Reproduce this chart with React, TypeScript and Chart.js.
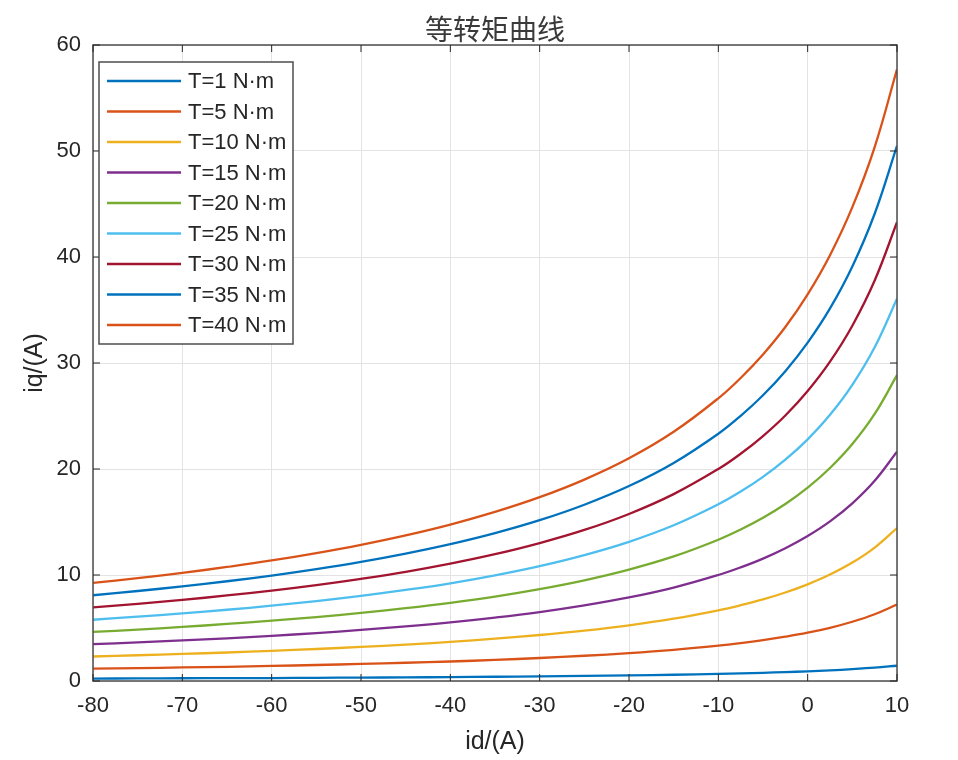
import { useEffect, useRef } from 'react';
import { Chart, registerables } from 'chart.js';

Chart.register(...registerables);

// id in A, every 5 A, denser near the steep right end
const idValues = [-80, -75, -70, -65, -60, -55, -50, -45, -40, -35, -30, -25, -20, -15, -10, -7.5, -5, -2.5, 0, 2.5, 5, 7.5, 10];

const t1 = [0.23, 0.24, 0.26, 0.27, 0.28, 0.3, 0.32, 0.34, 0.37, 0.4, 0.43, 0.48, 0.53, 0.59, 0.67, 0.71, 0.77, 0.84, 0.91, 1.0, 1.12, 1.26, 1.44];
const t5 = [1.16, 1.21, 1.28, 1.34, 1.42, 1.51, 1.61, 1.72, 1.84, 1.99, 2.17, 2.38, 2.63, 2.94, 3.33, 3.57, 3.85, 4.18, 4.56, 5.02, 5.59, 6.3, 7.21];
const t10 = [2.31, 2.43, 2.55, 2.69, 2.84, 3.02, 3.21, 3.43, 3.69, 3.99, 4.34, 4.75, 5.25, 5.88, 6.67, 7.15, 7.7, 8.35, 9.12, 10.04, 11.17, 12.59, 14.43];
const t15 = [3.47, 3.64, 3.83, 4.03, 4.26, 4.52, 4.82, 5.15, 5.53, 5.98, 6.5, 7.13, 7.88, 8.81, 10.0, 10.72, 11.55, 12.53, 13.68, 15.06, 16.76, 18.89, 21.64];
const t20 = [4.63, 4.85, 5.1, 5.38, 5.69, 6.03, 6.42, 6.87, 7.38, 7.97, 8.67, 9.5, 10.51, 11.75, 13.33, 14.29, 15.4, 16.7, 18.24, 20.09, 22.35, 25.19, 28.85];
const t25 = [5.78, 6.07, 6.38, 6.72, 7.11, 7.54, 8.03, 8.59, 9.22, 9.97, 10.84, 11.88, 13.13, 14.69, 16.67, 17.87, 19.26, 20.88, 22.8, 25.11, 27.94, 31.48, 36.06];
const t30 = [6.94, 7.28, 7.65, 8.07, 8.53, 9.05, 9.64, 10.3, 11.07, 11.96, 13.01, 14.25, 15.76, 17.63, 20.0, 21.44, 23.11, 25.05, 27.36, 30.13, 33.52, 37.78, 43.28];
const t35 = [8.09, 8.49, 8.93, 9.41, 9.95, 10.56, 11.24, 12.02, 12.91, 13.95, 15.17, 16.63, 18.39, 20.57, 23.33, 25.02, 26.96, 29.23, 31.92, 35.15, 39.11, 44.08, 50.49];
const t40 = [9.25, 9.7, 10.2, 10.76, 11.37, 12.07, 12.85, 13.74, 14.76, 15.95, 17.34, 19.0, 21.01, 23.51, 26.67, 28.59, 30.81, 33.4, 36.48, 40.17, 44.7, 50.37, 57.7];

const seriesLabels = ['T=1 N·m', 'T=5 N·m', 'T=10 N·m', 'T=15 N·m', 'T=20 N·m', 'T=25 N·m', 'T=30 N·m', 'T=35 N·m', 'T=40 N·m'];
const seriesValues = [t1, t5, t10, t15, t20, t25, t30, t35, t40];
const colors = ['#0072BD', '#D95319', '#EDB120', '#7E2F8E', '#77AC30', '#4DBEEE', '#A2142F', '#0072BD', '#D95319'];

const xTicks = [-80, -70, -60, -50, -40, -30, -20, -10, 0, 10];
const yTicks = [0, 10, 20, 30, 40, 50, 60];

const FONT = '"Liberation Sans", Arial, sans-serif';
const AXIS = '#262626';

// title, axis labels, box, inward ticks and the matlab-style legend
const decorations = {
  id: 'decorations',
  afterDraw(chart: any) {
    const { ctx, chartArea: a, scales } = chart;
    ctx.save();

    // box
    ctx.strokeStyle = '#4d4d4d';
    ctx.lineWidth = 1.5;
    ctx.strokeRect(a.left, a.top, a.right - a.left, a.bottom - a.top);

    // inward ticks
    ctx.strokeStyle = AXIS;
    ctx.lineWidth = 1;
    ctx.beginPath();
    xTicks.forEach((v) => {
      const px = scales.x.getPixelForValue(v);
      ctx.moveTo(px, a.bottom);
      ctx.lineTo(px, a.bottom - 7);
      ctx.moveTo(px, a.top);
      ctx.lineTo(px, a.top + 7);
    });
    yTicks.forEach((v) => {
      const py = scales.y.getPixelForValue(v);
      ctx.moveTo(a.left, py);
      ctx.lineTo(a.left + 7, py);
      ctx.moveTo(a.right, py);
      ctx.lineTo(a.right - 7, py);
    });
    ctx.stroke();

    // title
    ctx.fillStyle = '#3a3a3a';
    ctx.font = '28px "Noto Sans CJK SC", sans-serif';
    ctx.textAlign = 'center';
    ctx.textBaseline = 'middle';
    ctx.fillText('等转矩曲线', (a.left + a.right) / 2, 29);

    // axis labels
    ctx.fillStyle = AXIS;
    ctx.font = `25px ${FONT}`;
    ctx.fillText('id/(A)', (a.left + a.right) / 2, 742);
    ctx.save();
    ctx.translate(35, (a.top + a.bottom) / 2);
    ctx.rotate(-Math.PI / 2);
    ctx.fillText('iq/(A)', 0, 0);
    ctx.restore();

    // legend
    const bx = 99, by = 62, bw = 194, bh = 282;
    ctx.fillStyle = '#ffffff';
    ctx.fillRect(bx, by, bw, bh);
    ctx.strokeStyle = '#4d4d4d';
    ctx.lineWidth = 1.5;
    ctx.strokeRect(bx, by, bw, bh);
    ctx.font = `22px ${FONT}`;
    ctx.textAlign = 'left';
    chart.data.datasets.forEach((ds: any, i: number) => {
      const ry = 81 + i * 30.5;
      ctx.strokeStyle = ds.borderColor;
      ctx.lineWidth = 2.5;
      ctx.beginPath();
      ctx.moveTo(107, ry);
      ctx.lineTo(181, ry);
      ctx.stroke();
      ctx.fillStyle = AXIS;
      ctx.fillText(ds.label, 188, ry + 1);
    });

    ctx.restore();
  },
};

export default function App() {
  const canvasRef = useRef<HTMLCanvasElement>(null);
  const chartRef = useRef<Chart | null>(null);

  useEffect(() => {
    document.body.style.margin = '0';
    if (!canvasRef.current) return;
    if (chartRef.current) chartRef.current.destroy();

    const datasets = seriesValues.map((vals, i) => ({
      label: seriesLabels[i],
      data: idValues.map((x, j) => ({ x, y: vals[j] })),
      borderColor: colors[i],
      backgroundColor: colors[i],
      borderWidth: 2.3,
      pointRadius: 0,
      tension: 0.4,
      fill: false,
    }));

    chartRef.current = new Chart(canvasRef.current, {
      type: 'line',
      data: { datasets },
      options: {
        responsive: false,
        animation: false,
        layout: { padding: { top: 45, right: 61, left: 0, bottom: 0 } },
        plugins: {
          legend: { display: false },
          title: { display: false },
          tooltip: { enabled: false },
        },
        scales: {
          x: {
            type: 'linear',
            min: -80,
            max: 10,
            afterFit: (s: any) => {
              s.height = 79;
            },
            afterBuildTicks: (s: any) => {
              s.ticks = xTicks.map((v) => ({ value: v }));
            },
            ticks: {
              font: { family: FONT, size: 22 },
              color: AXIS,
              padding: 12,
              maxRotation: 0,
            },
            grid: { color: '#e3e3e3', lineWidth: 1, drawTicks: false },
            border: { display: false },
          },
          y: {
            type: 'linear',
            min: 0,
            max: 60,
            afterFit: (s: any) => {
              s.width = 93;
            },
            afterBuildTicks: (s: any) => {
              s.ticks = yTicks.map((v) => ({ value: v }));
            },
            ticks: {
              font: { family: FONT, size: 22 },
              color: AXIS,
              padding: 12,
            },
            grid: { color: '#e3e3e3', lineWidth: 1, drawTicks: false },
            border: { display: false },
          },
        },
      },
      plugins: [decorations],
    });

    return () => {
      if (chartRef.current) {
        chartRef.current.destroy();
        chartRef.current = null;
      }
    };
  }, []);

  return (
    <div style={{ width: 958, height: 760, background: '#ffffff' }}>
      <canvas ref={canvasRef} width={958} height={760} />
    </div>
  );
}
